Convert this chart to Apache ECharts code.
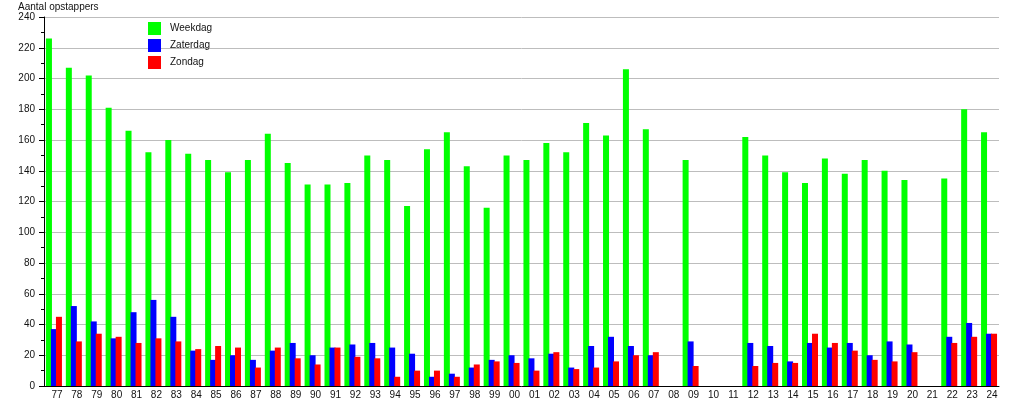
<!DOCTYPE html>
<html>
<head>
<meta charset="utf-8">
<script src="https://cdn.jsdelivr.net/npm/echarts@6/dist/echarts.min.js"></script>
<style>html,body{margin:0;padding:0;background:#fff;}#c{width:1015px;height:400px;}</style>
</head>
<body>
<div id="c"></div>
<script>
var categories = ['77','78','79','80','81','82','83','84','85','86','87','88','89','90','91','92','93','94','95','96','97','98','99','00','01','02','03','04','05','06','07','08','09','10','11','12','13','14','15','16','17','18','19','20','21','22','23','24'];
var weekdag  = [226,207,202,181,166,152,160,151,147,139,147,164,145,131,131,132,150,147,117,154,165,143,116,150,147,158,152,171,163,206,167,0,147,0,0,162,150,139,132,148,138,147,140,134,0,135,180,165];
var zaterdag = [37,52,42,31,48,56,45,23,17,20,17,23,28,20,25,27,28,25,21,6,8,12,17,20,18,21,12,26,32,26,20,0,29,0,0,28,26,16,28,25,28,20,29,27,0,32,41,34];
var zondag   = [45,29,34,32,28,31,29,24,26,25,12,25,18,14,25,19,18,6,10,10,6,14,16,15,10,22,11,12,16,20,22,0,13,0,0,13,15,15,34,28,23,17,16,22,0,28,32,34];
var seriesNames = ['Weekdag','Zaterdag','Zondag'];
var yTitle = 'Aantal opstappers';

var font = 'Liberation Sans, Arial, Helvetica, sans-serif';
var chart = echarts.init(document.getElementById('c'), null, {renderer: 'canvas'});
chart.setOption({
  animation: false,
  backgroundColor: '#ffffff',
  title: {
    text: yTitle, left: 18, top: 2, padding: 0,
    textStyle: {fontFamily: font, fontSize: 10, fontWeight: 'normal', color: '#111'}
  },
  legend: {
    data: seriesNames, orient: 'vertical', left: 143, top: 17,
    itemWidth: 13, itemHeight: 13, itemGap: 4, icon: 'rect',
    textStyle: {fontFamily: font, fontSize: 10, color: '#111', padding: [0,0,0,4]}
  },
  grid: {left: 44, right: 16, top: 17, bottom: 13, containLabel: false},
  xAxis: {
    type: 'category', data: categories,
    axisLine: {lineStyle: {color: '#000', width: 1}},
    axisTick: {show: false},
    axisLabel: {fontFamily: font, fontSize: 10, color: '#111', margin: 4, interval: 0, padding: [0,0,0,6]},
    splitLine: {show: false}
  },
  yAxis: {
    type: 'value', min: 0, max: 240, interval: 20,
    axisLine: {show: true, lineStyle: {color: '#000', width: 1}},
    axisTick: {show: true, length: 5, lineStyle: {color: '#000'}},
    minorTick: {show: true, splitNumber: 2, length: 3, lineStyle: {color: '#000'}},
    axisLabel: {fontFamily: font, fontSize: 10, color: '#111', margin: 9},
    splitLine: {show: true, lineStyle: {color: '#bdbdbd', width: 1}}
  },
  series: [
    {name: seriesNames[0], type: 'bar', data: weekdag, barWidth: 6, barGap: '-16.7%', itemStyle: {color: '#00ff00'}},
    {name: seriesNames[1], type: 'bar', data: zaterdag, barWidth: 6, barGap: '-16.7%', itemStyle: {color: '#0000ff'}},
    {name: seriesNames[2], type: 'bar', data: zondag, barWidth: 6, barGap: '-16.7%', itemStyle: {color: '#ff0000'}}
  ]
});
</script>
</body>
</html>
